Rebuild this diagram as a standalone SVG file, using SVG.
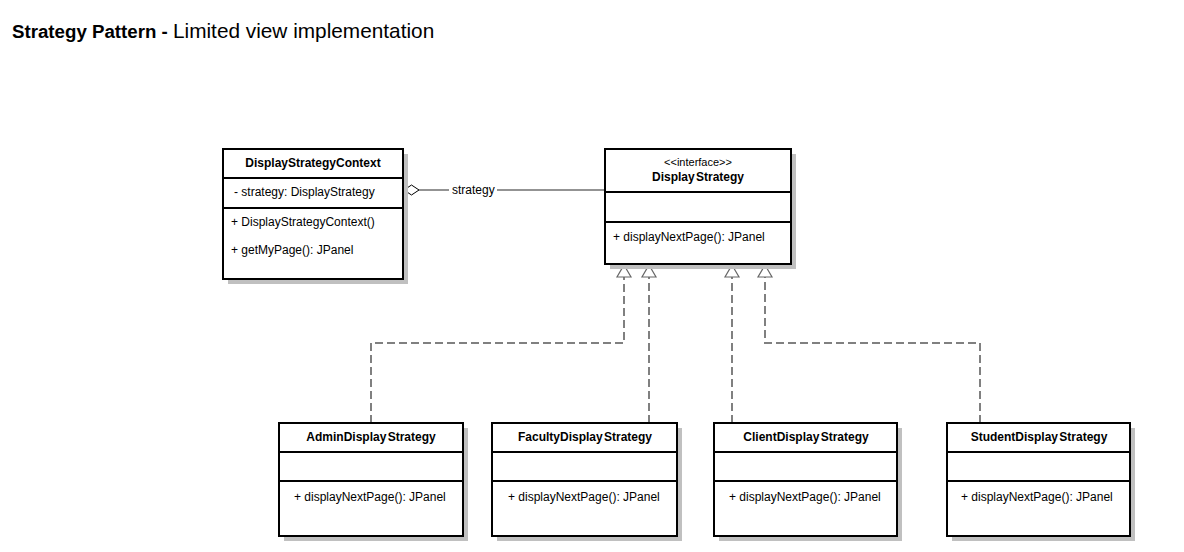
<svg xmlns="http://www.w3.org/2000/svg" width="1184" height="552" viewBox="0 0 1184 552">
<style>
text{font-family:"Liberation Sans",Arial,sans-serif;fill:#000}
.box{fill:#fff;stroke:#000;stroke-width:2}
.shadow{fill:#c0c0c0}
.div{stroke:#000;stroke-width:2}
.name{font-size:12px;font-weight:bold;text-anchor:middle}
.mem{font-size:12px}
.dash{fill:none;stroke:#808080;stroke-width:2;stroke-dasharray:8,4}
.tri{fill:#fff;stroke:#666;stroke-width:1.2}
.assoc{fill:none;stroke:#707070;stroke-width:1.5}
</style>
<rect width="1184" height="552" fill="#fff"/>
<text x="12" y="38"><tspan font-size="18.7px" font-weight="bold">Strategy Pattern - </tspan><tspan font-size="20.8px">Limited view implementation</tspan></text>

<g id="connectors">
<path class="dash" d="M371,423 V343 H624 V277"/>
<path class="dash" d="M649,423 V277"/>
<path class="dash" d="M732,423 V277"/>
<path class="dash" d="M980,423 V343 H765 V277"/>
<polygon class="tri" points="624,265 631,277 617,277"/>
<polygon class="tri" points="649,265 656,277 642,277"/>
<polygon class="tri" points="732,265 739,277 725,277"/>
<polygon class="tri" points="765,265 772,277 758,277"/>
<path class="assoc" d="M419,190 H449 M497,190 H605"/>
<polygon points="404,190 411.5,185 419,190 411.5,195" fill="#fff" stroke="#000" stroke-width="1"/>
<text x="452" y="194" class="mem">strategy</text>
</g>

<g id="DisplayStrategyContext">
<rect class="shadow" x="228" y="154" width="180" height="130"/>
<rect class="box" x="223" y="149" width="180" height="130"/>
<line class="div" x1="223" y1="178" x2="403" y2="178"/>
<line class="div" x1="223" y1="208" x2="403" y2="208"/>
<text class="name" x="313" y="167">DisplayStrategyContext</text>
<text class="mem" x="234" y="196">- strategy: DisplayStrategy</text>
<text class="mem" x="231" y="226">+ DisplayStrategyContext()</text>
<text class="mem" x="231" y="254">+ getMyPage(): JPanel</text>
</g>

<g id="DisplayStrategy">
<rect class="shadow" x="610" y="154" width="186" height="115"/>
<rect class="box" x="605" y="149" width="186" height="115"/>
<line class="div" x1="605" y1="192" x2="791" y2="192"/>
<line class="div" x1="605" y1="222" x2="791" y2="222"/>
<text x="698" y="166" font-size="11px" text-anchor="middle">&lt;&lt;interface&gt;&gt;</text>
<text class="name" x="698" y="181" word-spacing="-2">Display Strategy</text>
<text class="mem" x="613" y="241">+ displayNextPage(): JPanel</text>
</g>

<g id="AdminDisplayStrategy">
<rect class="shadow" x="284" y="428" width="184" height="113"/>
<rect class="box" x="279" y="423" width="184" height="113"/>
<line class="div" x1="279" y1="452" x2="463" y2="452"/>
<line class="div" x1="279" y1="481" x2="463" y2="481"/>
<text class="name" x="371" y="441" word-spacing="-2">AdminDisplay Strategy</text>
<text class="mem" x="294" y="501">+ displayNextPage(): JPanel</text>
</g>

<g id="FacultyDisplayStrategy">
<rect class="shadow" x="497" y="428" width="185" height="113"/>
<rect class="box" x="492" y="423" width="185" height="113"/>
<line class="div" x1="492" y1="452" x2="677" y2="452"/>
<line class="div" x1="492" y1="481" x2="677" y2="481"/>
<text class="name" x="585" y="441" word-spacing="-2">FacultyDisplay Strategy</text>
<text class="mem" x="508" y="501">+ displayNextPage(): JPanel</text>
</g>

<g id="ClientDisplayStrategy">
<rect class="shadow" x="719" y="428" width="183" height="113"/>
<rect class="box" x="714" y="423" width="183" height="113"/>
<line class="div" x1="714" y1="452" x2="897" y2="452"/>
<line class="div" x1="714" y1="481" x2="897" y2="481"/>
<text class="name" x="806" y="441" word-spacing="-2">ClientDisplay Strategy</text>
<text class="mem" x="729" y="501">+ displayNextPage(): JPanel</text>
</g>

<g id="StudentDisplayStrategy">
<rect class="shadow" x="952" y="428" width="183" height="113"/>
<rect class="box" x="947" y="423" width="183" height="113"/>
<line class="div" x1="947" y1="452" x2="1130" y2="452"/>
<line class="div" x1="947" y1="481" x2="1130" y2="481"/>
<text class="name" x="1039" y="441" word-spacing="-2">StudentDisplay Strategy</text>
<text class="mem" x="961" y="501">+ displayNextPage(): JPanel</text>
</g>
</svg>
